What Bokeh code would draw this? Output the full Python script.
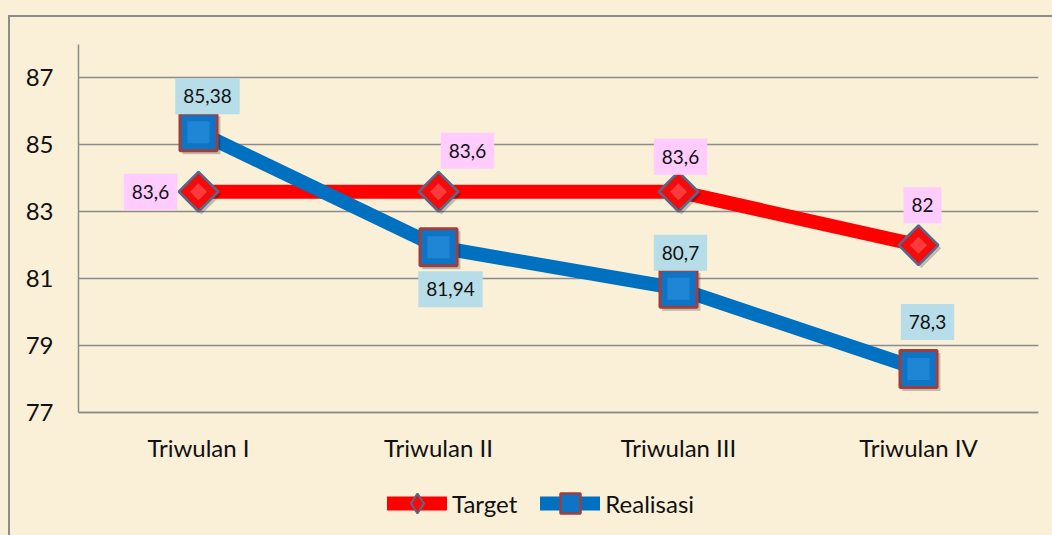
from bokeh.plotting import figure
from bokeh.models import (ColumnDataSource, FactorRange, Range1d, FixedTicker, Label,
                          Legend, LegendItem)
from bokeh.transform import dodge
from bokeh.embed import file_html
from bokeh.resources import INLINE
import math

# ---- data ----
quarters = ["Triwulan I", "Triwulan II", "Triwulan III", "Triwulan IV"]
target = [83.6, 83.6, 83.6, 82.0]
realisasi = [85.38, 81.94, 80.7, 78.3]
target_text = ["83,6", "83,6", "83,6", "82"]
realisasi_text = ["85,38", "81,94", "80,7", "78,3"]
y_ticks = [77, 79, 81, 83, 85, 87]
Y_MIN, Y_MAX = 77, 88

# ---- layout (pixels) ----
W, H = 1052, 535
FRAME_L, FRAME_R, FRAME_T, AXIS_Y = 78, 1038, 44, 412
target_off = [(-48, 0), (29, 41), (2, 35), (4, 40)]
realisasi_off = [(9, 36), (12, -42), (2, 36), (9, 47)]

FONT = "Lato"
GRID = "#8c8c8c"
BG = "#faefd7"

# extend the frame below the x axis so the legend can sit inside it
px_per_unit = (AXIS_Y - FRAME_T) / (Y_MAX - Y_MIN)
y_start = Y_MIN - (H - AXIS_Y) / px_per_unit

src = ColumnDataSource(dict(x=quarters, t=target, r=realisasi))

xr = FactorRange(*quarters)
p = figure(width=W, height=H, x_range=xr, y_range=Range1d(y_start, Y_MAX),
           output_backend="svg", toolbar_location=None,
           min_border_left=FRAME_L, min_border_right=W - FRAME_R,
           min_border_top=FRAME_T, min_border_bottom=0)
p.background_fill_color = None
p.border_fill_color = None
p.outline_line_color = None
p.styles = {"background": ("linear-gradient(#8c8c8c,#8c8c8c) 8px 15px / 2px 100% no-repeat, "
                           "linear-gradient(#8c8c8c,#8c8c8c) 8px 15px / 100% 2px no-repeat, " + BG)}

p.xgrid.grid_line_color = None
p.ygrid.ticker = FixedTicker(ticks=y_ticks)
p.ygrid.grid_line_color = GRID
p.ygrid.grid_line_width = 1.5

p.yaxis.ticker = FixedTicker(ticks=y_ticks)
p.yaxis.bounds = (Y_MIN, Y_MAX)
p.xaxis.fixed_location = Y_MIN
for ax in (p.xaxis[0], p.yaxis[0]):
    ax.axis_line_color = GRID
    ax.axis_line_width = 1.5
    ax.major_tick_line_color = None
    ax.minor_tick_line_color = None
    ax.major_tick_out = 0
    ax.major_tick_in = 0
    ax.major_label_text_font = FONT
    ax.major_label_text_font_size = "24px"
    ax.major_label_text_color = "#111111"
p.yaxis.major_label_standoff = 25
p.xaxis.major_label_standoff = 20

# lines
l_t = p.line("x", "t", source=src, line_color="#ff0000", line_width=14,
             line_join="round", line_cap="round")
l_r = p.line("x", "r", source=src, line_color="#0070c0", line_width=14,
             line_join="round", line_cap="round")

# legend-style markers (small, fully hidden under the big markers drawn afterwards)
lg_t = p.scatter("x", "t", source=src, marker="diamond", size=18,
                 fill_color="#f20c0c", line_color="#56698f", line_width=2)
lg_r = p.scatter("x", "r", source=src, marker="square", size=18,
                 fill_color="#0e74c6", line_color="#9e3f3f", line_width=2.5)

# shadows
p.scatter(dodge("x", 0.012, range=xr), dodge("t", -0.09), source=src, marker="square",
          angle=math.pi / 4, size=28, fill_color="black", fill_alpha=0.22, line_color=None)
p.scatter(dodge("x", 0.012, range=xr), dodge("r", -0.09), source=src, marker="square",
          size=38, fill_color="black", fill_alpha=0.22, line_color=None)

# markers
p.scatter("x", "t", source=src, marker="square", angle=math.pi / 4, size=28,
          fill_color="#f20c0c", line_color="#56698f", line_width=2.5)
p.scatter("x", "r", source=src, marker="square", size=37,
          fill_color="#0e74c6", line_color="#9e3f3f", line_width=3)
# highlights
p.scatter("x", "t", source=src, marker="square", angle=math.pi / 4, size=12,
          fill_color="#ff3a3a", line_color=None)
p.scatter("x", "r", source=src, marker="square", size=22,
          fill_color="#1f86d6", line_color=None)

# data labels (categorical factors sit at index + 0.5 on a FactorRange)
def add_labels(vals, texts, offs, color):
    for i, (v, s, (dx, dy)) in enumerate(zip(vals, texts, offs)):
        p.add_layout(Label(x=i + 0.5, y=v, text=s, x_offset=dx, y_offset=dy,
                           text_align="center", text_baseline="middle", text_font=FONT,
                           text_font_size="19px", text_color="#111111",
                           background_fill_color=color, padding=(8, 11)))

add_labels(target, target_text, target_off, "#ffccff")
add_labels(realisasi, realisasi_text, realisasi_off, "#b7dde8")

legend = Legend(items=[LegendItem(label="Target", renderers=[l_t, lg_t]),
                       LegendItem(label="Realisasi", renderers=[l_r, lg_r])],
                orientation="horizontal", location=(309, 7),
                glyph_width=60, glyph_height=50, label_standoff=5, spacing=23,
                padding=0, margin=0, background_fill_color=None, border_line_color=None,
                label_text_font=FONT, label_text_font_size="24px", label_text_color="#111111")
p.add_layout(legend, "center")

open("out.html", "w").write(file_html(p, INLINE))
